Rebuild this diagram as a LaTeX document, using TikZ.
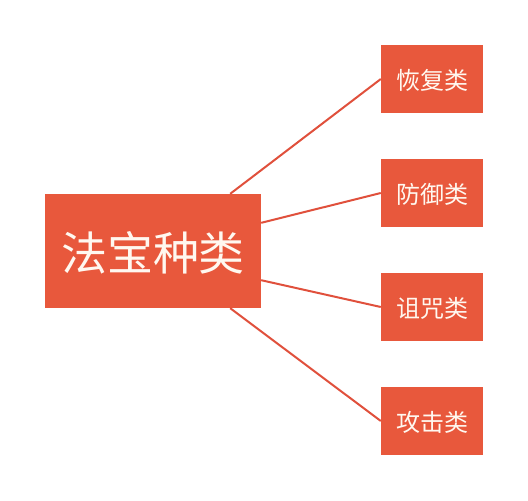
\documentclass[tikz,border=0pt]{standalone}
\usepackage{fontspec}
\newfontfamily\cjk{Noto Sans CJK SC}
\usepackage{tikz}
\usetikzlibrary{arrows,arrows.meta}
\definecolor{boxred}{HTML}{E8583C}
\definecolor{linkred}{HTML}{E0503C}
\definecolor{boxtext}{HTML}{FFF8F0}

\begin{document}
\begin{tikzpicture}[x=1pt, y=-1pt,
	mainbox/.style={fill=boxred, minimum width=216pt, minimum height=114pt,
	inner sep=0pt, text=boxtext, text depth=-3pt, font=\cjk\fontsize{46}{50}\selectfont},
	kindbox/.style={fill=boxred, minimum width=102pt, minimum height=68pt,
	inner sep=0pt, text=boxtext, text depth=-2pt, font=\cjk\fontsize{24}{28}\selectfont},
	link/.style={draw=linkred, line width=2pt}]
	\useasboundingbox (0,0) rectangle (528,501);
	\node[mainbox] (fabao) at (153,251) {法宝种类};
	\node[kindbox] (huifu) at (432,79) {恢复类};
	\node[kindbox] (fangyu) at (432,193) {防御类};
	\node[kindbox] (zuzhou) at (432,307) {诅咒类};
	\node[kindbox] (gongji) at (432,421) {攻击类};
	\draw[link] ([xshift=-31pt]fabao.north east) -- (huifu.west);
	\draw[link] ([yshift=-29pt]fabao.north east) -- (fangyu.west);
	\draw[link] ([yshift=28pt]fabao.south east) -- (zuzhou.west);
	\draw[link] ([xshift=-31pt]fabao.south east) -- (gongji.west);
\end{tikzpicture}
\end{document}
